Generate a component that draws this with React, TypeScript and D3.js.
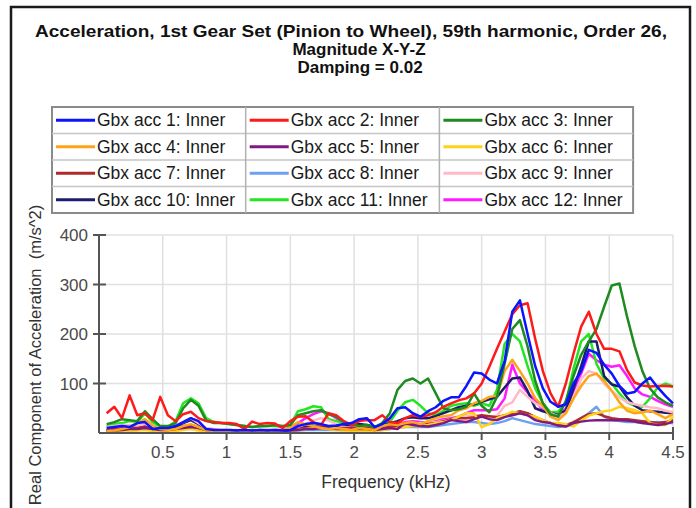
import React from 'react';
import * as d3 from 'd3';

// frequency samples (kHz)
const freqKHz = [
  0.06, 0.12, 0.18, 0.24, 0.3, 0.36, 0.42, 0.48, 0.54, 0.6, 0.66, 0.72, 0.78, 0.84, 0.9,
  0.96, 1.02, 1.08, 1.14, 1.2, 1.26, 1.32, 1.38, 1.44, 1.5, 1.56, 1.62, 1.68, 1.74, 1.8,
  1.86, 1.92, 1.98, 2.04, 2.1, 2.16, 2.22, 2.28, 2.34, 2.4, 2.46, 2.52, 2.58, 2.64, 2.7,
  2.76, 2.82, 2.88, 2.94, 3.0, 3.06, 3.12, 3.18, 3.24, 3.3, 3.36, 3.42, 3.48, 3.54, 3.6,
  3.66, 3.72, 3.78, 3.84, 3.9, 3.96, 4.02, 4.08, 4.14, 4.2, 4.26, 4.32, 4.38, 4.44, 4.5,
];

const acc1 = [
  10, 12, 14, 12, 20, 22, 8, 10, 10, 14, 22, 30, 24, 8, 6, 6, 6, 5, 6, 5, 6, 5, 6, 5, 6,
  14, 18, 20, 18, 14, 15, 18, 20, 28, 30, 12, 18, 30, 50, 52, 40, 33, 44, 52, 65, 72, 72, 95, 122, 120,
  108, 100, 145, 245, 268, 200, 135, 90, 63, 53, 58, 100, 125, 168, 162, 138, 120, 95, 80, 83, 100, 112, 92, 75, 60,
];
const acc2 = [
  40, 53, 30, 76, 36, 40, 26, 73, 36, 24, 38, 43, 30, 24, 22, 20, 20, 18, 8, 23, 18, 20, 19, 10, 24,
  33, 34, 22, 16, 40, 36, 24, 16, 24, 26, 26, 36, 22, 20, 30, 36, 33, 36, 42, 53, 60, 66, 70, 80, 100,
  134, 170, 205, 240, 258, 262, 190, 125, 80, 53, 100, 160, 215, 245, 200, 170, 170, 165, 127, 102, 96, 94, 95, 95, 94,
];
const acc3 = [
  18, 22, 28, 26, 24, 44, 28, 14, 14, 20, 50, 67, 55, 25, 20, 20, 18, 16, 14, 12, 14, 14, 16, 14, 16,
  36, 40, 44, 46, 38, 33, 22, 18, 14, 16, 12, 20, 40, 87, 105, 110, 100, 110, 80, 50, 46, 48, 53, 80, 55,
  42, 73, 140, 210, 228, 175, 105, 60, 38, 33, 65, 115, 158, 185, 210, 255, 298, 302, 235, 175, 125, 90, 72, 62, 55,
];
const acc4 = [
  4, 5, 8, 12, 20, 28, 15, 8, 6, 8, 14, 18, 12, 6, 4, 4, 4, 3, 4, 4, 3, 4, 5, 5, 12,
  22, 18, 14, 10, 8, 10, 8, 6, 10, 8, 6, 14, 18, 16, 20, 22, 18, 24, 30, 34, 36, 46, 50, 60, 65,
  73, 75, 125, 148, 125, 100, 70, 55, 33, 26, 40, 70, 95, 115, 120, 105, 85, 62, 45, 40, 42, 45, 38, 30, 38,
];
const acc5 = [
  4, 5, 6, 8, 8, 10, 8, 6, 6, 8, 10, 12, 10, 6, 5, 4, 4, 4, 4, 4, 4, 4, 4, 4, 5,
  6, 8, 8, 10, 10, 8, 8, 8, 8, 8, 6, 8, 10, 8, 20, 16, 14, 13, 16, 20, 26, 24, 22, 28, 33,
  28, 26, 32, 36, 40, 36, 26, 22, 20, 15, 13, 20, 23, 25, 26, 26, 26, 26, 25, 23, 20, 18, 16, 18, 23,
];
const acc6 = [
  2, 3, 3, 4, 5, 6, 4, 3, 3, 4, 6, 8, 5, 3, 3, 3, 3, 3, 3, 3, 3, 3, 3, 3, 4,
  6, 8, 10, 10, 8, 6, 5, 4, 4, 4, 4, 6, 8, 10, 12, 14, 14, 16, 20, 22, 26, 33, 40, 40, 12,
  18, 30, 36, 43, 40, 36, 33, 26, 20, 20, 18, 13, 25, 35, 40, 44, 46, 53, 50, 46, 40, 20, 16, 16, 33,
];
const acc7 = [
  6, 7, 8, 10, 10, 12, 8, 7, 7, 9, 12, 14, 10, 7, 6, 5, 5, 5, 5, 5, 5, 5, 5, 5, 6,
  8, 10, 12, 12, 10, 10, 10, 10, 10, 10, 8, 10, 12, 14, 18, 18, 16, 18, 20, 24, 28, 30, 30, 32, 36,
  34, 32, 36, 40, 44, 40, 32, 26, 20, 16, 16, 22, 30, 38, 40, 34, 30, 28, 28, 26, 24, 22, 20, 22, 26,
];
const acc8 = [
  3, 4, 5, 6, 6, 8, 5, 4, 4, 5, 8, 10, 7, 4, 3, 3, 3, 3, 3, 3, 3, 3, 3, 3, 3,
  5, 6, 6, 6, 6, 6, 6, 6, 6, 6, 5, 6, 8, 10, 12, 12, 12, 12, 14, 16, 18, 20, 22, 22, 20,
  18, 20, 24, 30, 26, 22, 18, 16, 14, 12, 14, 20, 30, 40, 53, 33, 26, 24, 22, 22, 20, 20, 22, 20, 20,
];
const acc9 = [
  12, 14, 16, 16, 14, 18, 12, 10, 12, 16, 22, 30, 20, 10, 8, 6, 6, 6, 6, 6, 6, 6, 6, 6, 8,
  12, 18, 25, 30, 25, 18, 12, 10, 10, 10, 8, 10, 12, 14, 16, 18, 20, 20, 22, 25, 28, 30, 34, 36, 36,
  33, 35, 55, 62, 87, 73, 60, 52, 40, 34, 40, 70, 110, 125, 120, 100, 85, 72, 62, 58, 55, 52, 50, 45, 42,
];
const acc10 = [
  5, 6, 8, 10, 12, 14, 8, 6, 8, 12, 20, 26, 18, 8, 5, 5, 5, 5, 5, 5, 5, 5, 5, 5, 6,
  10, 14, 14, 12, 12, 12, 14, 16, 18, 16, 12, 16, 20, 24, 30, 32, 30, 30, 34, 40, 46, 52, 55, 58, 63,
  68, 73, 92, 110, 112, 85, 50, 44, 40, 37, 45, 90, 135, 185, 185, 115, 98, 94, 72, 55, 46, 44, 43, 41, 40,
];
const acc11 = [
  14, 18, 20, 24, 22, 40, 22, 12, 12, 24, 60, 70, 60, 30, 22, 20, 18, 16, 14, 12, 13, 14, 14, 12, 16,
  44, 48, 54, 52, 28, 24, 20, 16, 14, 15, 12, 16, 22, 45, 62, 67, 55, 40, 36, 45, 55, 58, 60, 55, 60,
  55, 87, 180, 200, 185, 135, 90, 60, 42, 43, 60, 130, 185, 200, 140, 110, 100, 80, 62, 55, 53, 70, 92, 100, 94,
];
const acc12 = [
  6, 8, 10, 12, 14, 16, 10, 8, 8, 10, 14, 16, 12, 8, 6, 5, 5, 5, 5, 5, 6, 6, 6, 6, 10,
  20, 30, 38, 44, 40, 30, 20, 14, 12, 12, 10, 14, 16, 18, 22, 24, 22, 20, 24, 28, 30, 33, 40, 46, 46,
  46, 48, 70, 138, 100, 82, 65, 46, 38, 33, 50, 85, 120, 160, 147, 138, 134, 137, 115, 90, 78, 73, 65, 58, 53,
];

const seriesNames = [
  'Gbx acc 1: Inner', 'Gbx acc 2: Inner', 'Gbx acc 3: Inner',
  'Gbx acc 4: Inner', 'Gbx acc 5: Inner', 'Gbx acc 6: Inner',
  'Gbx acc 7: Inner', 'Gbx acc 8: Inner', 'Gbx acc 9: Inner',
  'Gbx acc 10: Inner', 'Gbx acc 11: Inner', 'Gbx acc 12: Inner',
];
const seriesValues = [acc1, acc2, acc3, acc4, acc5, acc6, acc7, acc8, acc9, acc10, acc11, acc12];
const seriesColors = [
  '#0a14ff', '#ff1a1a', '#1f8a1f', '#ffa41a', '#7f1a84', '#ffd21a',
  '#b02a2a', '#6f9ff0', '#ffb9c6', '#1c1c6e', '#22e622', '#ff1aff',
];

const titleLines = [
  'Acceleration, 1st Gear Set (Pinion to Wheel), 59th harmonic, Order 26,',
  'Magnitude X-Y-Z',
  'Damping = 0.02',
];
const xTicks = [0.5, 1, 1.5, 2, 2.5, 3, 3.5, 4, 4.5];
const yTicks = [100, 200, 300, 400];

const FONT = '"Liberation Sans", Arial, sans-serif';

const App: React.FC = () => {
  const x = d3.scaleLinear().domain([0, 4.5]).range([99, 673]);
  const y = d3.scaleLinear().domain([0, 400]).range([433, 235]);

  const line = d3.line<number>()
    .x((_, i) => x(freqKHz[i]))
    .y(d => y(d));

  // legend grid
  const legX = 52, legY = 107, colW = 193.7, rowH = 26.5;

  return (
    <svg width={696} height={508} style={{ position: 'absolute', left: 0, top: 0, background: '#fff' }}
      fontFamily={FONT}>
      <rect x={11} y={7} width={679} height={520} fill="#fff" stroke="#1a1a1a" strokeWidth={2.5} />

      {/* title */}
      <text x={351} y={37} textAnchor="middle" fontSize={17} fontWeight="bold" fill="#111"
        textLength={632} lengthAdjust="spacingAndGlyphs">{titleLines[0]}</text>
      <text x={359} y={54.8} textAnchor="middle" fontSize={17} fontWeight="bold" fill="#111">{titleLines[1]}</text>
      <text x={360} y={72.6} textAnchor="middle" fontSize={17} fontWeight="bold" fill="#111">{titleLines[2]}</text>

      {/* legend */}
      <g>
        <rect x={legX} y={legY} width={colW * 3} height={rowH * 4} fill="#fff" stroke="#8a8a8a" strokeWidth={2} />
        {[1, 2, 3].map(r => (
          <line key={'r' + r} x1={legX} x2={legX + colW * 3} y1={legY + r * rowH} y2={legY + r * rowH}
            stroke="#c4c4c4" strokeWidth={1.5} />
        ))}
        {[1, 2].map(c => (
          <line key={'c' + c} x1={legX + c * colW} x2={legX + c * colW} y1={legY} y2={legY + rowH * 4}
            stroke="#b0b0b0" strokeWidth={1.5} />
        ))}
        {seriesNames.map((name, i) => {
          const c = i % 3, r = Math.floor(i / 3);
          const cx = legX + c * colW, cy = legY + r * rowH + rowH / 2;
          return (
            <g key={name}>
              <line x1={cx + 4} x2={cx + 43} y1={cy} y2={cy} stroke={seriesColors[i]} strokeWidth={3} />
              <text x={cx + 45} y={cy + 6} fontSize={17.5} fill="#1a1a1a">{name}</text>
            </g>
          );
        })}
      </g>

      {/* grid */}
      {xTicks.map(t => (
        <line key={'gx' + t} x1={x(t)} x2={x(t)} y1={y(400)} y2={y(0)} stroke="#e0e0e0" strokeWidth={1.5} />
      ))}
      {yTicks.map(t => (
        <line key={'gy' + t} x1={x(0)} x2={x(4.5)} y1={y(t)} y2={y(t)} stroke="#e0e0e0" strokeWidth={1.5} />
      ))}

      {/* series, last drawn first so acc 1 sits on top */}
      {seriesValues.map((_, i) => i).reverse().map(i => (
        <path key={'s' + i} d={line(seriesValues[i]) || ''} fill="none" stroke={seriesColors[i]}
          strokeWidth={2.5} strokeLinejoin="round" />
      ))}

      {/* axes */}
      <line x1={x(0)} x2={x(0)} y1={y(400) - 1} y2={y(0)} stroke="#555" strokeWidth={2} />
      <line x1={x(0)} x2={x(4.5)} y1={y(0)} y2={y(0)} stroke="#555" strokeWidth={2} />
      {yTicks.map(t => (
        <g key={'yt' + t}>
          <line x1={x(0) - 6} x2={x(0) + 7} y1={y(t)} y2={y(t)} stroke="#555" strokeWidth={2} />
          <text x={x(0) - 11} y={y(t) + 6} textAnchor="end" fontSize={17} fill="#4a4a4a">{t}</text>
        </g>
      ))}
      {xTicks.map(t => (
        <g key={'xt' + t}>
          <line x1={x(t)} x2={x(t)} y1={y(0) - (t === 4.5 ? 6 : 0)} y2={y(0) + 7} stroke="#555" strokeWidth={2} />
          <text x={x(t)} y={y(0) + 25} textAnchor="middle" fontSize={17} fill="#4a4a4a">{t}</text>
        </g>
      ))}

      {/* axis titles */}
      <text x={386} y={488} textAnchor="middle" fontSize={17.5} fill="#333">Frequency (kHz)</text>
      <text transform="translate(41,355) rotate(-90)" textAnchor="middle" fontSize={16.5} fill="#333"
        xmlSpace="preserve">Real Component of Acceleration  (m/s^2)</text>
    </svg>
  );
};

export default App;
